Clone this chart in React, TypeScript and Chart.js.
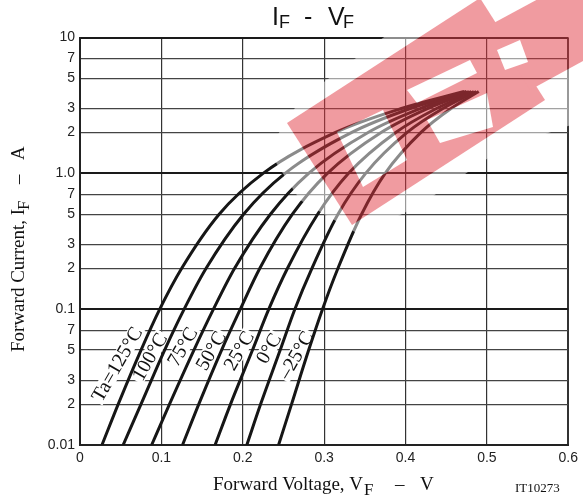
import { useEffect, useRef } from 'react';
import { Chart, registerables } from 'chart.js';

Chart.register(...registerables);

// ---- data ----
const currentA = [0.01, 0.02, 0.05, 0.1, 0.2, 0.5, 1, 2, 3, 4];
const seriesNames = ['Ta=125°C', '100°C', '75°C', '50°C', '25°C', '0°C', '–25°C'];
const vf125 = [0.027, 0.047, 0.075, 0.098, 0.125, 0.171, 0.225, 0.314, 0.395, 0.472];
const vf100 = [0.053, 0.075, 0.104, 0.128, 0.155, 0.201, 0.252, 0.334, 0.406, 0.475];
const vf75 = [0.088, 0.11, 0.14, 0.164, 0.19, 0.234, 0.281, 0.354, 0.418, 0.478];
const vf50 = [0.126, 0.146, 0.174, 0.197, 0.221, 0.261, 0.304, 0.37, 0.427, 0.481];
const vf25 = [0.166, 0.185, 0.212, 0.232, 0.255, 0.292, 0.33, 0.388, 0.438, 0.484];
const vf0 = [0.205, 0.222, 0.246, 0.264, 0.285, 0.317, 0.351, 0.402, 0.446, 0.487];
const vfM25 = [0.244, 0.26, 0.281, 0.298, 0.317, 0.346, 0.375, 0.419, 0.456, 0.49];
const allSeries = [vf125, vf100, vf75, vf50, vf25, vf0, vfM25];

// curve-label anchor points (data coordinates)
const labelV = [0.0455, 0.0855, 0.126, 0.1608, 0.1953, 0.2319, 0.2653];
const labelI = [0.0394, 0.0446, 0.0529, 0.0494, 0.0494, 0.0514, 0.0459];

const yTickValues = [0.01, 0.02, 0.03, 0.05, 0.07, 0.1, 0.2, 0.3, 0.5, 0.7, 1, 2, 3, 5, 7, 10];
const yTickLabels = ['0.01', '2', '3', '5', '7', '0.1', '2', '3', '5', '7', '1.0', '2', '3', '5', '7', '10'];
const xTickValues = [0, 0.1, 0.2, 0.3, 0.4, 0.5, 0.6];
const xTickLabels = ['0', '0.1', '0.2', '0.3', '0.4', '0.5', '0.6'];

const SANS = '"Liberation Sans", Arial, sans-serif';
const SERIF = '"Liberation Serif", "Times New Roman", serif';

type Piece = { t: string; x: number; size: number; dy?: number; family: string };

function drawPieces(ctx: CanvasRenderingContext2D, pieces: Piece[], y: number) {
  for (const p of pieces) {
    ctx.font = `${p.size}px ${p.family}`;
    ctx.fillText(p.t, p.x, y + (p.dy || 0));
  }
}

function isDecade(v: number) {
  const l = Math.log10(v);
  return Math.abs(l - Math.round(l)) < 1e-6;
}

const labelsPlugin = {
  id: 'curveLabels',
  beforeDatasetsDraw(chart: any) {
    const ctx = chart.ctx as CanvasRenderingContext2D;
    const xs = chart.scales.x;
    const ys = chart.scales.y;
    ctx.save();
    ctx.font = `20px ${SERIF}`;
    ctx.textAlign = 'center';
    ctx.textBaseline = 'middle';
    seriesNames.forEach((name, i) => {
      const px = xs.getPixelForValue(labelV[i]);
      const py = ys.getPixelForValue(labelI[i]);
      ctx.save();
      ctx.translate(px, py);
      ctx.rotate((-60 * Math.PI) / 180);
      const w = ctx.measureText(name).width;
      ctx.fillStyle = '#fff';
      ctx.fillRect(-w / 2 - 2, -8, w + 4, 16);
      ctx.fillStyle = '#111';
      ctx.fillText(name, 0, 1);
      ctx.restore();
    });
    ctx.restore();
  },
};

const textPlugin = {
  id: 'texts',
  afterDraw(chart: any) {
    const ctx = chart.ctx as CanvasRenderingContext2D;
    ctx.save();
    ctx.fillStyle = '#111';
    ctx.textBaseline = 'alphabetic';
    ctx.textAlign = 'left';
    // title  I_F – V_F
    drawPieces(
      ctx,
      [
        { t: 'I', x: 272, size: 25, family: SANS },
        { t: 'F', x: 279, size: 18, dy: 3, family: SANS },
        { t: '-', x: 304, size: 25, family: SANS },
        { t: 'V', x: 328, size: 25, family: SANS },
        { t: 'F', x: 343, size: 18, dy: 3, family: SANS },
      ],
      25,
    );
    // x axis title
    drawPieces(
      ctx,
      [
        { t: 'Forward Voltage, V', x: 213, size: 19, family: SERIF },
        { t: 'F', x: 364, size: 17, dy: 5, family: SERIF },
        { t: '–', x: 395, size: 19, family: SERIF },
        { t: 'V', x: 420, size: 19, family: SERIF },
      ],
      490,
    );
    ctx.font = `13px ${SERIF}`;
    ctx.fillText('IT10273', 515, 492);
    // y axis title (rotated)
    ctx.save();
    ctx.translate(24, 352);
    ctx.rotate(-Math.PI / 2);
    drawPieces(
      ctx,
      [
        { t: 'Forward Current, I', x: 0, size: 19, family: SERIF },
        { t: 'F', x: 142, size: 17, dy: 5, family: SERIF },
        { t: '–', x: 168, size: 19, family: SERIF },
        { t: 'A', x: 192, size: 19, family: SERIF },
      ],
      0,
    );
    ctx.restore();
    ctx.restore();
  },
};

// decorative red watermark logo overlaid semi-transparently (as in the source image)
const watermarkPlugin = {
  id: 'watermark',
  afterDraw(chart: any) {
    const ctx = chart.ctx as CanvasRenderingContext2D;
    const off = document.createElement('canvas');
    off.width = 583;
    off.height = 500;
    const o = off.getContext('2d')!;
    const poly = (pts: number[][], color: string) => {
      o.beginPath();
      pts.forEach((p, i) => (i ? o.lineTo(p[0], p[1]) : o.moveTo(p[0], p[1])));
      o.closePath();
      o.fillStyle = color;
      o.fill();
    };
    const pink = 'rgb(226,56,66)';
    poly([[268, 150], [300, 100], [380, 40], [440, -2], [585, -2], [585, 120], [500, 150], [420, 205], [360, 235], [300, 200]], '#fff');
    poly([[287, 123], [480, -2], [545, 100], [352, 225]], pink);
    poly([[490, 25], [540, -2], [585, -2], [585, 60], [530, 90]], pink);
    poly([[337, 132], [383, 110], [407, 160], [363, 187]], '#fff');
    poly([[427, 120], [487, 93], [493, 127], [440, 143]], '#fff');
    poly([[407, 90], [470, 60], [477, 73], [417, 103]], '#fff');
    poly([[497, 50], [520, 40], [528, 62], [505, 70]], '#fff');
    ctx.save();
    ctx.globalAlpha = 0.5;
    ctx.drawImage(off, 0, 0, 583, 500);
    ctx.restore();
  },
};

export default function App() {
  const ref = useRef<HTMLCanvasElement | null>(null);
  useEffect(() => {
    if (!ref.current) return;
    const datasets = allSeries.map((vf, i) => ({
      label: seriesNames[i],
      data: vf.map((v, k) => ({ x: v, y: currentA[k] })),
      borderColor: '#161616',
      borderWidth: 3,
      pointRadius: 0,
      fill: false,
      cubicInterpolationMode: 'monotone' as const,
    }));
    const chart = new Chart(ref.current, {
      type: 'line',
      data: { datasets },
      options: {
        responsive: false,
        animation: false,
        devicePixelRatio: 1,
        layout: { padding: { top: 37.5, right: 11.5, left: 0, bottom: 0 } },
        plugins: { legend: { display: false }, tooltip: { enabled: false }, title: { display: false } },
        scales: {
          x: {
            type: 'linear',
            min: 0,
            max: 0.6,
            afterBuildTicks: (s: any) => {
              s.ticks = xTickValues.map((v) => ({ value: v }));
            },
            afterFit: (s: any) => {
              s.height = 55;
            },
            ticks: {
              callback: (_v: any, i: number) => xTickLabels[i],
              font: { family: SANS, size: 14 },
              color: '#222',
              padding: 5,
              maxRotation: 0,
              autoSkip: false,
            },
            grid: {
              drawTicks: false,
              color: '#333',
              lineWidth: (c: any) => (c.tick && (c.tick.value === 0.6 || c.tick.value === 0) ? 2 : 1.2),
            },
            border: { display: true, color: '#222', width: 2 },
          },
          y: {
            type: 'logarithmic',
            min: 0.01,
            max: 10,
            afterBuildTicks: (s: any) => {
              s.ticks = yTickValues.map((v) => ({ value: v }));
            },
            afterFit: (s: any) => {
              s.width = 80;
            },
            ticks: {
              callback: (_v: any, i: number) => yTickLabels[i],
              font: { family: SANS, size: 14 },
              color: '#222',
              padding: 5,
              autoSkip: false,
            },
            grid: {
              drawTicks: false,
              color: (c: any) => (c.tick && isDecade(c.tick.value) ? '#1a1a1a' : '#444'),
              lineWidth: (c: any) => (c.tick && isDecade(c.tick.value) ? 2 : 1.2),
            },
            border: { display: true, color: '#222', width: 2 },
          },
        },
      },
      plugins: [labelsPlugin, textPlugin, watermarkPlugin],
    });
    return () => chart.destroy();
  }, []);
  return (
    <div style={{ position: 'absolute', left: 0, top: 0, width: 583, height: 500, background: '#fff' }}>
      <canvas ref={ref} width={583} height={500} style={{ width: 583, height: 500 }} />
    </div>
  );
}
